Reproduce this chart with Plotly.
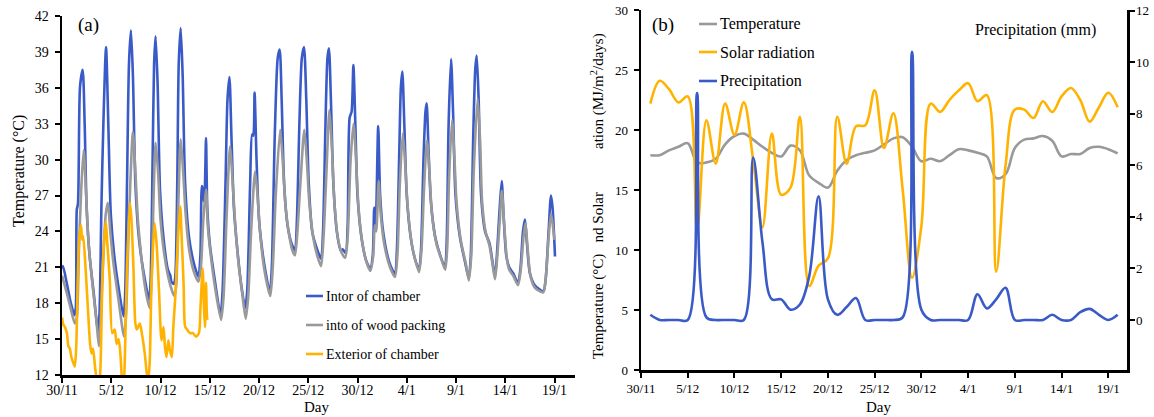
import plotly.graph_objects as go

W, H = 1154, 417

# ---------------- Panel (a): temperatures, x = days since 30/11 ----------------
interior_points = [
    (0.0, 20.9), (0.1, 21.1), (0.5, 19.6), (0.9, 18.0), (1.25, 17.0), (1.4, 17.6), (1.5, 25.8), (1.62, 26.3),
    (1.83, 36.1), (2.1, 37.5), (2.3, 33.0), (2.5, 26.0), (2.8, 22.0), (3.2, 19.0), (3.65, 15.7),
    (3.8, 17.0), (4.0, 26.0), (4.2, 33.0), (4.47, 39.4), (4.7, 33.0), (4.95, 25.5), (5.3, 22.0), (5.8, 19.0), (6.25, 16.9),
    (6.4, 18.5), (6.6, 28.0), (6.8, 38.0), (7.0, 40.8), (7.2, 37.0), (7.45, 28.0), (7.8, 23.5), (8.3, 20.5), (8.85, 18.3),
    (9.0, 20.0), (9.2, 30.0), (9.35, 38.0), (9.5, 40.3), (9.7, 36.5), (9.95, 27.5), (10.3, 23.5), (10.75, 20.8),
    (11.0, 20.3), (11.1, 19.8), (11.35, 19.6), (11.5, 20.2),
    (11.7, 28.0), (11.85, 38.0), (12.05, 41.0), (12.25, 37.0), (12.5, 28.0), (12.9, 23.5), (13.4, 21.3), (13.85, 20.2),
    (14.05, 22.0), (14.2, 27.8), (14.3, 27.5), (14.4, 26.5), (14.5, 27.5), (14.62, 31.8), (14.75, 26.0), (15.0, 23.0),
    (15.5, 20.0), (16.1, 17.0),
    (16.3, 19.0), (16.6, 28.0), (16.8, 35.0), (17.0, 36.9), (17.2, 32.0), (17.45, 26.0), (17.8, 22.5), (18.2, 19.5), (18.6, 17.6),
    (18.8, 19.0), (19.1, 28.0), (19.3, 32.1), (19.42, 32.0), (19.55, 35.6), (19.75, 30.0), (20.0, 25.0), (20.4, 22.0),
    (20.8, 20.0), (21.1, 18.8),
    (21.3, 21.0), (21.6, 32.0), (21.9, 38.5), (22.1, 39.2), (22.3, 35.0), (22.55, 28.0), (22.9, 24.5), (23.3, 23.0), (23.65, 22.4),
    (23.85, 25.0), (24.1, 33.0), (24.35, 38.5), (24.57, 39.4), (24.8, 35.0), (25.05, 28.0), (25.4, 24.0), (25.9, 22.5), (26.3, 21.7),
    (26.5, 24.0), (26.75, 33.0), (26.95, 38.5), (27.1, 39.3), (27.3, 35.0), (27.55, 28.0), (27.9, 24.0), (28.3, 22.4),
    (28.5, 22.5), (28.8, 22.2),
    (29.0, 24.5), (29.2, 33.5), (29.4, 34.0), (29.58, 37.9), (29.78, 33.0), (30.0, 27.0), (30.4, 23.5), (30.9, 21.5), (31.3, 20.9),
    (31.55, 22.0), (31.7, 26.0), (31.85, 24.5), (32.1, 32.8), (32.3, 27.0), (32.6, 24.0), (33.2, 21.5), (33.8, 20.4),
    (34.0, 22.5), (34.25, 31.0), (34.4, 36.0), (34.55, 37.35), (34.75, 33.0), (35.0, 27.0), (35.4, 23.5), (35.8, 21.8), (36.25, 20.8),
    (36.45, 22.5), (36.7, 30.0), (36.9, 34.0), (37.02, 34.7), (37.2, 31.0), (37.45, 26.5), (37.9, 23.5), (38.4, 22.0), (38.88, 21.0),
    (39.05, 23.0), (39.25, 33.0), (39.5, 38.4), (39.7, 34.0), (39.95, 27.0), (40.4, 23.5), (40.9, 21.5), (41.3, 20.1),
    (41.5, 22.0), (41.75, 32.0), (41.95, 37.5), (42.1, 38.7), (42.3, 35.0), (42.55, 27.0), (42.95, 24.0), (43.4, 23.0),
    (43.7, 21.5), (43.96, 20.2),
    (44.15, 22.0), (44.4, 25.5), (44.64, 28.2), (44.85, 25.0), (45.1, 22.0), (45.4, 21.0), (45.8, 20.5), (46.3, 19.7),
    (46.55, 21.0), (46.8, 24.0), (47.0, 25.0), (47.2, 23.0), (47.5, 20.5), (48.0, 19.5), (48.86, 19.0),
    (49.1, 20.0), (49.4, 24.0), (49.64, 27.0), (49.8, 26.0), (50.05, 21.9),
]

wood_points = [
    (0.0, 20.3), (0.5, 18.8), (0.9, 17.5), (1.3, 16.3), (1.5, 16.8), (1.7, 22.0), (1.95, 27.5), (2.2, 30.8), (2.45, 27.0),
    (2.7, 23.0), (3.1, 19.5), (3.5, 16.5), (3.75, 14.4),
    (3.95, 17.0), (4.2, 22.0), (4.45, 25.5), (4.65, 26.4), (4.9, 24.0), (5.2, 21.5), (5.7, 18.5), (6.3, 15.2),
    (6.5, 17.0), (6.8, 25.0), (7.2, 32.3), (7.45, 29.0), (7.7, 25.0), (8.1, 21.5), (8.5, 19.0), (8.9, 17.6),
    (9.1, 20.0), (9.3, 27.0), (9.5, 31.4), (9.75, 29.0), (10.0, 25.0), (10.4, 22.0), (10.9, 19.8), (11.4, 18.6),
    (11.6, 19.5), (11.8, 26.0), (12.05, 31.7), (12.3, 29.0), (12.55, 25.5), (12.9, 22.5), (13.4, 20.6), (13.85, 19.8),
    (14.1, 21.0), (14.35, 25.0), (14.62, 27.5), (14.8, 24.5), (15.1, 22.0), (15.6, 19.0), (16.15, 16.6),
    (16.4, 18.5), (16.7, 25.0), (17.05, 31.1), (17.3, 28.5), (17.55, 25.0), (17.9, 21.5), (18.3, 18.8), (18.65, 16.7),
    (18.9, 18.5), (19.2, 24.0), (19.6, 29.0), (19.85, 27.0), (20.1, 24.0), (20.5, 21.0), (20.9, 19.3), (21.15, 18.6),
    (21.4, 21.0), (21.7, 27.0), (22.15, 32.5), (22.4, 30.0), (22.7, 26.0), (23.0, 24.0), (23.35, 22.5), (23.65, 22.0),
    (23.9, 24.0), (24.2, 28.0), (24.6, 32.5), (24.85, 30.0), (25.1, 26.5), (25.5, 23.5), (25.9, 22.0), (26.3, 21.1),
    (26.55, 23.5), (26.85, 29.0), (27.15, 34.15), (27.4, 31.0), (27.65, 26.5), (28.0, 23.5), (28.4, 22.2), (28.75, 21.8),
    (29.0, 23.5), (29.3, 30.0), (29.6, 33.0), (29.85, 30.0), (30.1, 26.0), (30.5, 23.0), (31.0, 21.2), (31.3, 20.7),
    (31.6, 22.0), (31.75, 24.5), (31.9, 24.0), (32.15, 28.2), (32.35, 25.5), (32.7, 23.0), (33.3, 21.0), (33.8, 20.2),
    (34.05, 22.0), (34.3, 28.0), (34.6, 32.2), (34.85, 29.5), (35.1, 26.0), (35.5, 23.0), (35.9, 21.5), (36.25, 20.6),
    (36.5, 22.5), (36.75, 27.5), (37.05, 31.6), (37.3, 29.0), (37.55, 25.5), (38.0, 23.0), (38.5, 21.7), (38.9, 20.8),
    (39.1, 22.5), (39.3, 28.5), (39.6, 33.3), (39.85, 30.0), (40.05, 26.5), (40.5, 23.2), (41.0, 21.3), (41.3, 19.9),
    (41.55, 22.0), (41.8, 29.0), (42.2, 35.1), (42.45, 31.5), (42.65, 26.5), (43.0, 24.0), (43.4, 22.8), (43.7, 21.3),
    (43.96, 20.0),
    (44.2, 22.0), (44.45, 25.0), (44.65, 27.4), (44.9, 24.5), (45.15, 21.8), (45.4, 20.8), (45.8, 20.3), (46.3, 19.5),
    (46.6, 21.0), (46.85, 23.5), (47.05, 24.7), (47.25, 22.8), (47.55, 20.3), (48.0, 19.3), (48.86, 18.9),
    (49.1, 20.0), (49.4, 23.5), (49.65, 25.5), (49.9, 24.0), (50.0, 23.3),
]

exterior_points = [
    (0.0, 16.8), (0.14, 16.2), (0.3, 16.0), (0.5, 15.5), (0.65, 14.4), (0.8, 14.2), (0.95, 13.5), (1.15, 13.0), (1.3, 12.7),
    (1.45, 14.5), (1.6, 20.0), (1.75, 23.5), (1.93, 24.5), (2.05, 23.3), (2.15, 23.6), (2.35, 21.5), (2.6, 18.0), (2.85, 14.6),
    (3.0, 13.8), (3.15, 14.2), (3.35, 12.7), (3.55, 11.5), (3.75, 11.0), (3.9, 12.5),
    (4.1, 20.0), (4.3, 23.5), (4.45, 24.8), (4.6, 23.0), (4.85, 20.0), (5.1, 15.5), (5.35, 15.8), (5.55, 14.6), (5.75, 15.0),
    (5.95, 13.5), (6.1, 11.5), (6.25, 11.0), (6.4, 14.0),
    (6.6, 21.0), (6.9, 26.4), (7.05, 25.0), (7.25, 21.0), (7.45, 16.3), (7.6, 15.8), (7.9, 16.3), (8.1, 15.5), (8.4, 13.8),
    (8.6, 12.2), (8.75, 11.5), (8.9, 13.0),
    (9.1, 20.0), (9.4, 24.7), (9.6, 23.0), (9.85, 19.0), (10.1, 14.9), (10.3, 16.0), (10.45, 14.4), (10.6, 13.5), (10.8, 14.9),
    (10.95, 14.1), (11.15, 13.5), (11.3, 16.0), (11.5, 18.5),
    (11.75, 23.0), (12.0, 26.1), (12.15, 23.5), (12.35, 19.5), (12.5, 16.05), (12.7, 15.8), (13.0, 15.5), (13.3, 15.5),
    (13.6, 15.2), (13.9, 15.5), (14.05, 17.5), (14.28, 20.9), (14.42, 17.5), (14.52, 16.0), (14.62, 19.7), (14.7, 17.2),
    (14.75, 16.6),
]

tick_days = [0, 5, 10, 15, 20, 25, 30, 35, 40, 45, 50]
tick_labels = ["30/11", "5/12", "10/12", "15/12", "20/12", "25/12", "30/12", "4/1", "9/1", "14/1", "19/1"]

# ---------------- Panel (b): daily meteorology (day 1 = 1/12) ----------------
day_b = list(range(1, 52))
air_temperature = [17.9, 17.9, 18.3, 18.6, 18.9, 17.3, 17.3, 17.6, 18.8, 19.5,
                   19.7, 19.2, 18.6, 18.1, 17.8, 18.7, 18.3, 16.2, 15.6, 15.2,
                   16.6, 17.5, 17.9, 18.1, 18.3, 18.8, 19.3, 19.4, 18.6, 17.4,
                   17.6, 17.4, 17.9, 18.4, 18.3, 18.1, 17.8, 16.0, 16.3, 18.5,
                   19.2, 19.3, 19.5, 19.1, 17.8, 18.0, 18.0, 18.5, 18.6, 18.4, 18.05]
solar_radiation = [22.2, 24.1, 23.4, 22.3, 22.8, 11.7, 20.8, 17.2, 22.2, 19.6,
                   22.3, 17.5, 11.9, 19.7, 14.6, 15.2, 21.1, 7.0, 8.7, 9.3,
                   21.1, 17.2, 20.3, 20.4, 23.3, 18.5, 21.4, 15.0, 7.7, 12.0,
                   22.2, 21.5, 22.5, 23.3, 23.9, 22.4, 22.9, 8.2, 17.0, 21.7,
                   21.7, 21.0, 22.4, 21.5, 22.8, 23.5, 22.5, 20.7, 21.9, 23.1, 21.9]
precipitation = [0.2, 0.0, 0.0, 0.0, 0.0, 8.8, 0.1, 0.0, 0.0, 0.0,
                 0.0, 6.3, 3.0, 0.8, 0.8, 0.4, 0.6, 1.7, 4.8, 0.8,
                 0.2, 0.5, 0.85, 0.0, 0.0, 0.0, 0.0, 0.1, 10.4, 0.4,
                 0.0, 0.0, 0.0, 0.0, 0.0, 1.0, 0.45, 0.8, 1.25, 0.0,
                 0.0, 0.0, 0.0, 0.2, 0.0, 0.0, 0.3, 0.43, 0.2, 0.0, 0.2]

BLUE = "#3A5BC7"
GRAY = "#999999"
ORANGE = "#FFB300"
FONT = "Liberation Serif, Times New Roman, serif"


def unzip(points):
    return [p[0] for p in points], [p[1] for p in points]


def px(x):
    return x / W


def py(y):
    return 1 - y / H


fig = go.Figure()
for pts, col, name in [(interior_points, BLUE, "Intor of chamber"),
                       (wood_points, GRAY, "into of wood packing"),
                       (exterior_points, ORANGE, "Exterior of chamber")]:
    xs, ys = unzip(pts)
    fig.add_trace(go.Scatter(x=xs, y=ys, mode="lines", name=name, showlegend=False,
                             line=dict(color=col, width=2.6, shape="spline", smoothing=0.7),
                             xaxis="x", yaxis="y"))

fig.add_trace(go.Scatter(x=day_b, y=air_temperature, mode="lines", name="Temperature", showlegend=False,
                         line=dict(color=GRAY, width=2.6, shape="spline", smoothing=1.0), xaxis="x2", yaxis="y2"))
fig.add_trace(go.Scatter(x=day_b, y=solar_radiation, mode="lines", name="Solar radiation", showlegend=False,
                         line=dict(color=ORANGE, width=2.6, shape="spline", smoothing=1.0), xaxis="x2", yaxis="y2"))
fig.add_trace(go.Scatter(x=day_b, y=precipitation, mode="lines", name="Precipitation", showlegend=False,
                         line=dict(color=BLUE, width=2.6, shape="spline", smoothing=1.0), xaxis="x2", yaxis="y3"))


def axis_style(size, **extra):
    d = dict(showline=True, linecolor="black", linewidth=2.5, showgrid=False, zeroline=False,
             ticks="outside", ticklen=5, tickwidth=2, tickcolor="black", automargin=False,
             ticklabeloverflow="allow",
             tickfont=dict(family=FONT, size=size, color="black"))
    d.update(extra)
    return d


fig.update_layout(
    width=W, height=H, margin=dict(l=0, r=0, t=0, b=0, autoexpand=False),
    paper_bgcolor="white", plot_bgcolor="white", showlegend=False, hovermode=False,
    font=dict(family=FONT, color="black"),
    xaxis=dict(domain=[px(62), px(575)], range=[0, 52.08], anchor="y",
               tickvals=tick_days, ticktext=tick_labels, **axis_style(14, ticklabelstandoff=-4)),
    yaxis=dict(domain=[py(375), py(16)], range=[12, 42], anchor="x",
               tickvals=list(range(12, 43, 3)), **axis_style(14, ticklabelstandoff=3)),
    xaxis2=dict(domain=[px(641), px(1127)], range=[0, 52.0], anchor="y2",
                tickvals=tick_days, ticktext=tick_labels, **axis_style(13, ticklabelstandoff=0)),
    yaxis2=dict(domain=[py(370), py(10)], range=[0, 30], anchor="x2",
                tickvals=list(range(0, 31, 5)), **axis_style(13, ticklabelstandoff=3)),
    yaxis3=dict(overlaying="y2", side="right", anchor="x2", range=[-1.94, 12.02],
                tickvals=list(range(0, 13, 2)), **axis_style(13, ticklabelstandoff=-1)),
)

ann = []


def text(x, y, s, size, xanchor="center", angle=0):
    ann.append(dict(x=px(x), y=py(y), xref="paper", yref="paper", text=s, showarrow=False,
                    xanchor=xanchor, yanchor="middle", textangle=angle,
                    font=dict(family=FONT, size=size, color="black")))


# Panel (a) texts
text(88, 25, "(a)", 19)
text(19, 171, "Temperature (°C)", 16, angle=-90)
text(316, 407, "Day", 15)
# Panel (b) texts
text(663, 25, "(b)", 19)
text(598, 91, "ation (MJ/m<sup>2</sup>/days)", 15, angle=-90)
text(598, 276, "Temperature (°C)   nd Solar", 15, angle=-90)
text(878, 407, "Day", 15)
text(1035, 30, "Precipitation (mm)", 16)

shapes = []


def legend_item(x0, x1, y, color, label, size):
    shapes.append(dict(type="line", xref="paper", yref="paper", x0=px(x0), x1=px(x1), y0=py(y), y1=py(y),
                       line=dict(color=color, width=2.6)))
    text(x1 + 1, y, label, size, xanchor="left")


legend_item(306, 323, 296, BLUE, "Intor of chamber", 14)
legend_item(306, 323, 325, GRAY, "into of wood packing", 14)
legend_item(306, 323, 354, ORANGE, "Exterior of chamber", 14)
legend_item(699, 717, 24, GRAY, "Temperature", 16)
legend_item(699, 717, 52, ORANGE, "Solar radiation", 16)
legend_item(699, 717, 81, BLUE, "Precipitation", 16)

fig.update_layout(annotations=ann, shapes=shapes)
# remove the browser's default 8px page margin so the figure fills the window exactly
fig.write_html("out.html", config={"displayModeBar": False, "staticPlot": True},
               post_script="document.body.style.margin='0px';")
